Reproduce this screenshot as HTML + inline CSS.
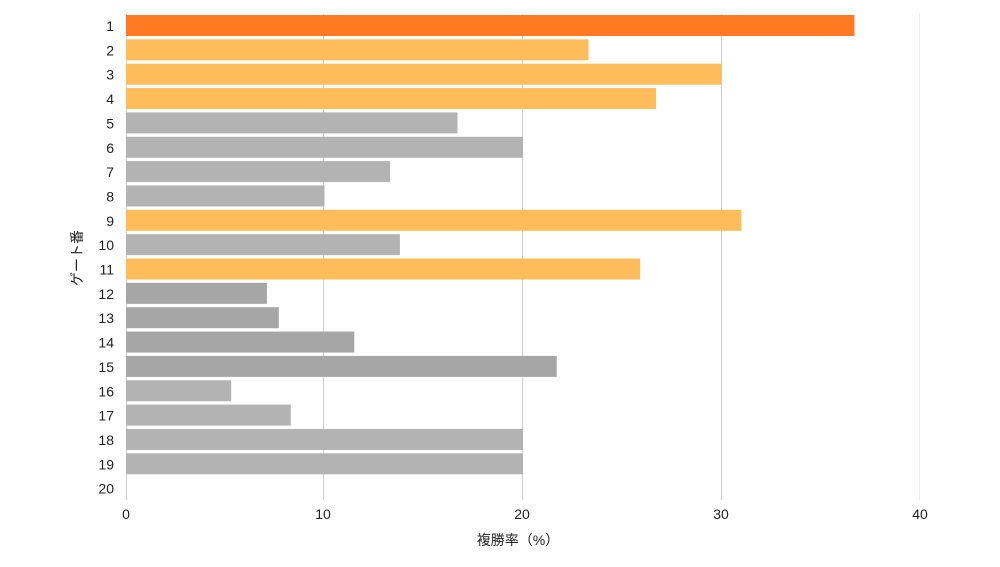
<!DOCTYPE html><html><head><meta charset="utf-8"><style>body{margin:0;background:#fff}svg text{font-family:"Liberation Sans","Noto Sans CJK JP",sans-serif;fill:#222}</style></head><body>
<svg width="1000" height="562" xmlns="http://www.w3.org/2000/svg">
<g stroke="#d0d0d0" stroke-width="1">
<line x1="126.5" y1="14" x2="126.5" y2="500"/><line x1="323.5" y1="14" x2="323.5" y2="500"/><line x1="522.5" y1="14" x2="522.5" y2="500"/><line x1="721.5" y1="14" x2="721.5" y2="500"/><line x1="919.5" y1="14" x2="919.5" y2="500" stroke="#eee"/>
</g>
<g>
<rect x="126" y="15" width="728.5" height="21" fill="#ff7a22"/>
<rect x="126" y="39.35" width="462.5" height="21" fill="#ffbc5a"/>
<rect x="126" y="63.7" width="595.5" height="21" fill="#ffbc5a"/>
<rect x="126" y="88.05" width="530" height="21" fill="#ffbc5a"/>
<rect x="126" y="112.4" width="331.5" height="21" fill="#b3b3b3"/>
<rect x="126" y="136.75" width="397" height="21" fill="#b3b3b3"/>
<rect x="126" y="161.1" width="264" height="21" fill="#b3b3b3"/>
<rect x="126" y="185.45" width="198.5" height="21" fill="#b3b3b3"/>
<rect x="126" y="209.8" width="615.4" height="21" fill="#ffbc5a"/>
<rect x="126" y="234.15" width="273.9" height="21" fill="#b3b3b3"/>
<rect x="126" y="258.5" width="514.1" height="21" fill="#ffbc5a"/>
<rect x="126" y="282.85" width="140.9" height="21" fill="#a6a6a6"/>
<rect x="126" y="307.2" width="152.8" height="21" fill="#a6a6a6"/>
<rect x="126" y="331.55" width="228.3" height="21" fill="#a6a6a6"/>
<rect x="126" y="355.9" width="430.7" height="21" fill="#a6a6a6"/>
<rect x="126" y="380.25" width="105.2" height="21" fill="#b3b3b3"/>
<rect x="126" y="404.6" width="164.8" height="21" fill="#b3b3b3"/>
<rect x="126" y="428.95" width="397" height="21" fill="#b3b3b3"/>
<rect x="126" y="453.3" width="397" height="21" fill="#b3b3b3"/>
</g>
<g font-size="14" text-anchor="middle">
<text x="126" y="519">0</text><text x="323" y="519">10</text><text x="522" y="519">20</text><text x="721" y="519">30</text><text x="920" y="519">40</text>
</g>
<text x="518" y="545" font-size="14" text-anchor="middle">複勝率（%）</text>
<text transform="translate(82,258) rotate(-90)" font-size="14" text-anchor="middle">ゲート番</text>
<g font-size="14" text-anchor="end">
<text x="114" y="31">1</text><text x="114" y="55.35">2</text><text x="114" y="79.7">3</text><text x="114" y="104.05">4</text><text x="114" y="128.4">5</text><text x="114" y="152.75">6</text><text x="114" y="177.1">7</text><text x="114" y="201.45">8</text><text x="114" y="225.8">9</text><text x="114" y="250.15">10</text><text x="114" y="274.5">11</text><text x="114" y="298.85">12</text><text x="114" y="323.2">13</text><text x="114" y="347.55">14</text><text x="114" y="371.9">15</text><text x="114" y="396.25">16</text><text x="114" y="420.6">17</text><text x="114" y="444.95">18</text><text x="114" y="469.3">19</text><text x="114" y="493.65">20</text>
</g>
</svg></body></html>
